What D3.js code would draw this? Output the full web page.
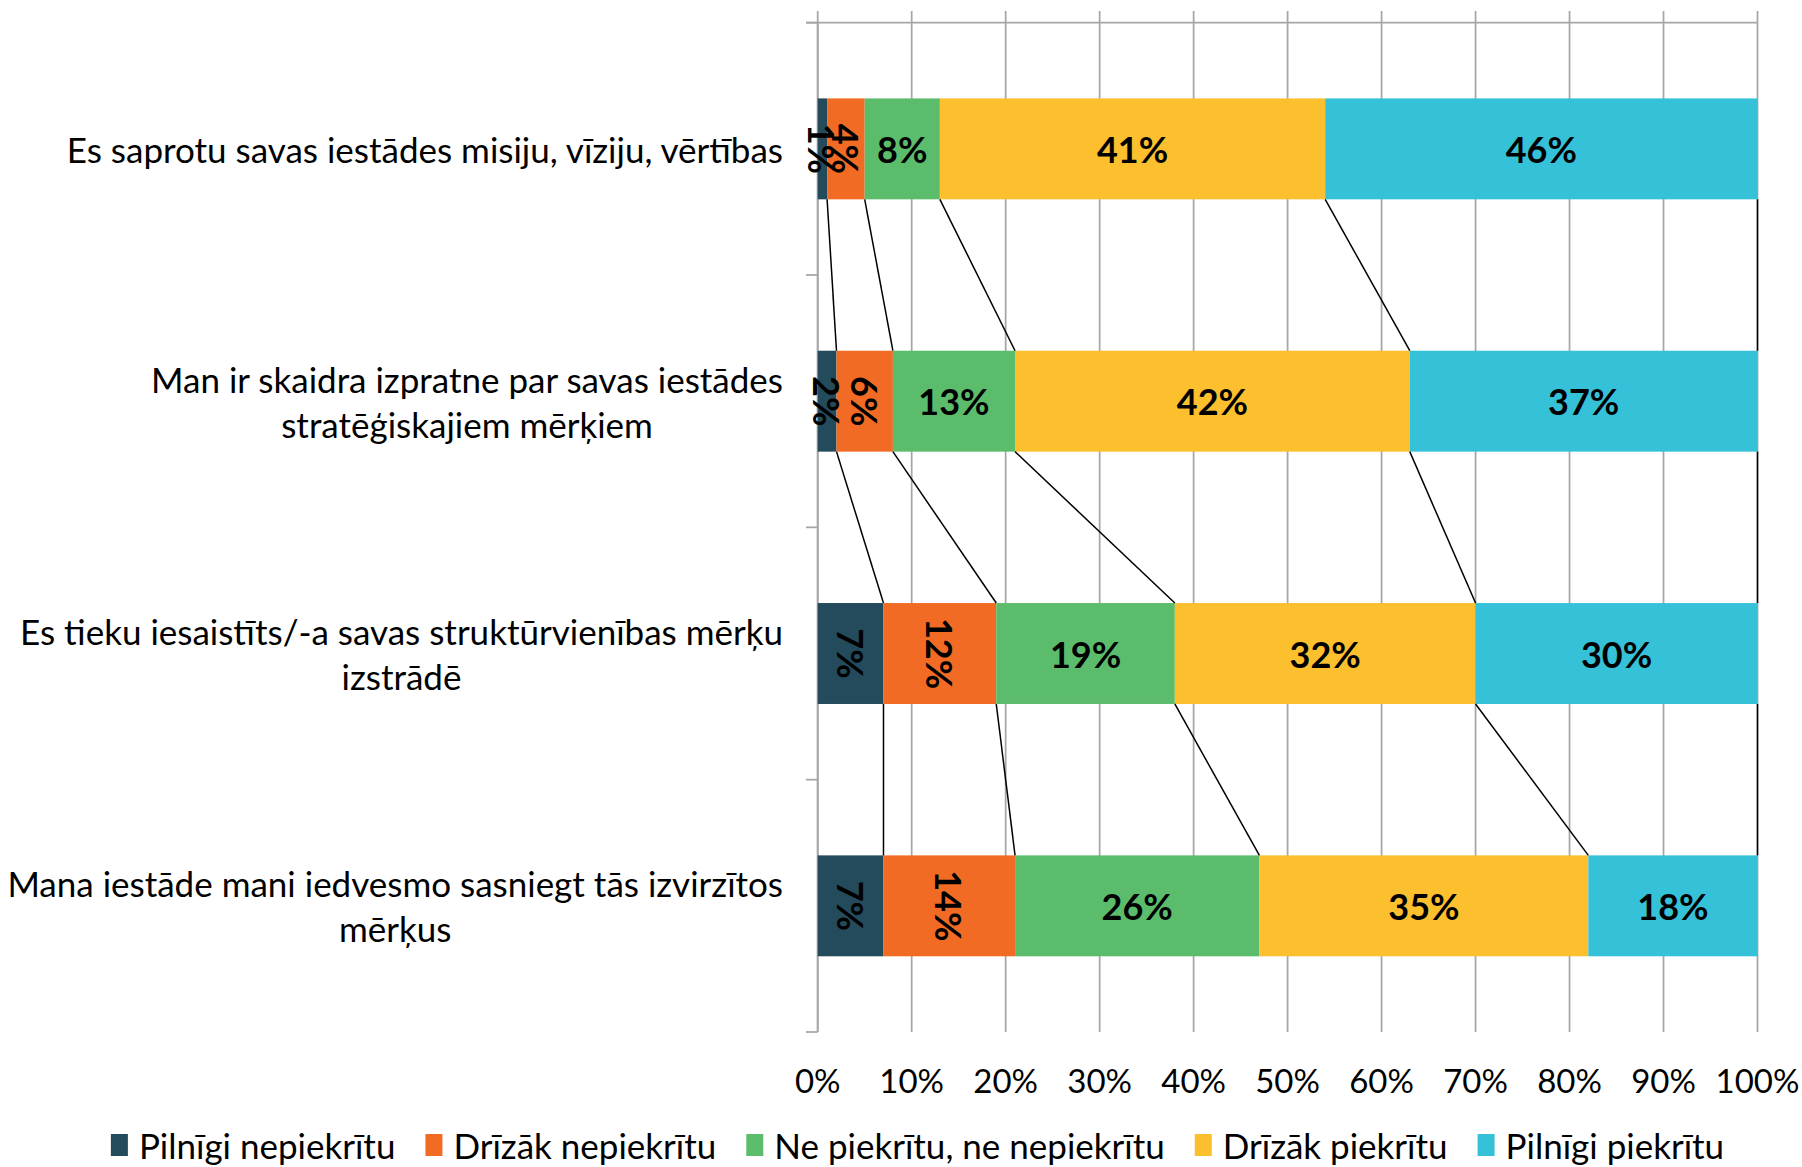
<!DOCTYPE html>
<html>
<head>
<meta charset="utf-8">
<script src="https://cdn.jsdelivr.net/npm/d3@7"></script>
<style>
    body { margin: 0; background: #fff; }
    svg { display: block; font-family: Lato, "Open Sans", sans-serif; }
</style>
</head>
<body>
<div id="chart"></div>
<script>
// categories, top to bottom (each entry = wrapped lines)
const categories = [
    ["Es saprotu savas iestādes misiju, vīziju, vērtības"],
    ["Man ir skaidra izpratne par savas iestādes", "stratēģiskajiem mērķiem"],
    ["Es tieku iesaistīts/-a savas struktūrvienības mērķu", "izstrādē"],
    ["Mana iestāde mani iedvesmo sasniegt tās izvirzītos", "mērķus"]
];

const seriesNames = ["Pilnīgi nepiekrītu", "Drīzāk nepiekrītu", "Ne piekrītu, ne nepiekrītu", "Drīzāk piekrītu", "Pilnīgi piekrītu"];
const seriesColors = ["#234B5B", "#F26B24", "#5BBD6B", "#FCBF2E", "#35C2D8"];

// values in %, one per category
const pilnigiNepiekritu = [1, 2, 7, 7];
const drizakNepiekritu = [4, 6, 12, 14];
const nePiekrituNeNepiekritu = [8, 13, 19, 26];
const drizakPiekritu = [41, 42, 32, 35];
const pilnigiPiekritu = [46, 37, 30, 18];

const xTicks = [0, 10, 20, 30, 40, 50, 60, 70, 80, 90, 100];

// series whose labels are drawn rotated
const rotatedSeries = ["Pilnīgi nepiekrītu", "Drīzāk nepiekrītu"];

const seriesValues = [pilnigiNepiekritu, drizakNepiekritu, nePiekrituNeNepiekritu, drizakPiekritu, pilnigiPiekritu];
const table = categories.map((c, i) => {
    const row = {category: c.join(" ")};
    seriesNames.forEach((s, j) => row[s] = seriesValues[j][i]);
    return row;
});

const width = 1802;
const height = 1167;
const plotLeft = 817.7, plotRight = 1757.5, plotTop = 22.7, plotBottom = 1032;
const gridColor = "#A6A6A6";

const svg = d3.create("svg")
    .attr("width", width)
    .attr("height", height)
    .attr("viewBox", [0, 0, width, height]);

// attach early so text can be measured
d3.select("#chart").node().appendChild(svg.node());

const x = d3.scaleLinear()
    .domain([0, 100])
    .range([plotLeft, plotRight]);

const y = d3.scaleBand()
    .domain(table.map(d => d.category))
    .range([plotTop, plotBottom])
    .paddingInner(0.6)
    .paddingOuter(0.3);

const stack = d3.stack().keys(seriesNames)(table);

// gridlines + tick marks above the axis line
svg.append("g")
    .selectAll("line")
    .data(xTicks)
    .join("line")
    .attr("x1", d => x(d))
    .attr("x2", d => x(d))
    .attr("y1", plotTop - 11.7)
    .attr("y2", plotBottom)
    .attr("stroke", gridColor)
    .attr("stroke-width", 1.75);

// value axis line (top, because categories are reversed)
svg.append("line")
    .attr("x1", plotLeft - 11.7)
    .attr("x2", plotRight)
    .attr("y1", plotTop)
    .attr("y2", plotTop)
    .attr("stroke", gridColor)
    .attr("stroke-width", 1.75);

// category axis
svg.append("line")
    .attr("x1", plotLeft)
    .attr("x2", plotLeft)
    .attr("y1", plotTop)
    .attr("y2", plotBottom)
    .attr("stroke", gridColor)
    .attr("stroke-width", 1.75);

const boundaries = d3.range(categories.length + 1).map(i => plotTop + i * y.step());
svg.append("g")
    .selectAll("line")
    .data(boundaries)
    .join("line")
    .attr("x1", plotLeft - 11.7)
    .attr("x2", plotLeft)
    .attr("y1", d => d)
    .attr("y2", d => d)
    .attr("stroke", gridColor)
    .attr("stroke-width", 1.75);

// bars
svg.append("g")
    .selectAll("g")
    .data(stack)
    .join("g")
    .attr("fill", (d, i) => seriesColors[i])
    .selectAll("rect")
    .data(d => d)
    .join("rect")
    .attr("x", d => x(d[0]))
    .attr("y", d => y(d.data.category))
    .attr("width", d => x(d[1]) - x(d[0]))
    .attr("height", y.bandwidth());

// series lines between the bars
const seriesLines = [];
stack.forEach(s => {
    for (let i = 0; i < s.length - 1; i++) {
        seriesLines.push({
            x1: x(s[i][1]),
            y1: y(s[i].data.category) + y.bandwidth(),
            x2: x(s[i + 1][1]),
            y2: y(s[i + 1].data.category)
        });
    }
});
svg.append("g")
    .selectAll("line")
    .data(seriesLines)
    .join("line")
    .attr("x1", d => d.x1)
    .attr("y1", d => d.y1)
    .attr("x2", d => d.x2)
    .attr("y2", d => d.y2)
    .attr("stroke", "#000")
    .attr("stroke-width", 1.5);

// data labels
svg.append("g")
    .selectAll("g")
    .data(stack)
    .join("g")
    .selectAll("text")
    .data(s => s.map(d => ({d, key: s.key})))
    .join("text")
    .attr("transform", ({d, key}) => {
        const cx = x((d[0] + d[1]) / 2);
        const cy = y(d.data.category) + y.bandwidth() / 2;
        return `translate(${cx},${cy})` + (rotatedSeries.includes(key) ? " rotate(90)" : "");
    })
    .attr("text-anchor", "middle")
    .attr("dominant-baseline", "central")
    .attr("font-size", 36)
    .attr("font-weight", "bold")
    .attr("fill", "#000")
    .text(({d, key}) => d.data[key] + "%");

// x tick labels
svg.append("g")
    .selectAll("text")
    .data(xTicks)
    .join("text")
    .attr("x", d => x(d))
    .attr("y", 1080)
    .attr("text-anchor", "middle")
    .attr("dominant-baseline", "central")
    .attr("font-size", 33)
    .attr("fill", "#000")
    .text(d => d + "%");

// category labels: block right aligned, lines centred inside it
const catGroup = svg.append("g");
table.forEach((row, i) => {
    const lines = categories[i];
    const cy = y(row.category) + y.bandwidth() / 2;
    const lineH = 45;
    const texts = lines.map((l, j) => catGroup.append("text")
        .attr("y", cy + (j - (lines.length - 1) / 2) * lineH)
        .attr("dominant-baseline", "central")
        .attr("text-anchor", "middle")
        .attr("font-size", 35)
        .attr("fill", "#000")
        .text(l));
    const maxW = d3.max(texts, t => t.node().getComputedTextLength());
    const center = 783 - maxW / 2;
    texts.forEach(t => t.attr("x", center));
});

// legend
const legend = svg.append("g");
let lx = 0;
seriesNames.forEach((s, i) => {
    legend.append("rect")
        .attr("x", lx)
        .attr("y", 1134)
        .attr("width", 17)
        .attr("height", 22)
        .attr("fill", seriesColors[i]);
    const t = legend.append("text")
        .attr("x", lx + 28)
        .attr("y", 1145)
        .attr("dominant-baseline", "central")
        .attr("font-size", 35)
        .attr("fill", "#000")
        .text(s);
    lx += 28 + t.node().getComputedTextLength() + 30;
});
lx -= 30;
legend.attr("transform", `translate(${917.5 - lx / 2},0)`);
</script>
</body>
</html>
